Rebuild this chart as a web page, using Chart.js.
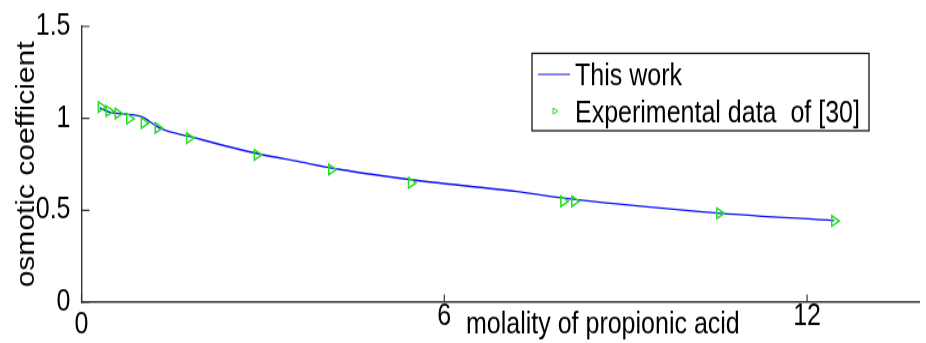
<!DOCTYPE html>
<html>
<head>
<meta charset="utf-8">
<script src="https://cdn.jsdelivr.net/npm/chart.js@4"></script>
<style>
  html, body { margin: 0; padding: 0; background: #fff; }
  body { height: 343px; width: 926px; }
  /* the reference is a vertically stretched figure, so draw flat then stretch */
  #wrap { width: 926px; height: 286px; transform: scaleY(1.1993); transform-origin: 0 0; }
</style>
</head>
<body>
<div id="wrap"><canvas id="myChart"></canvas></div>
<script>
// model curve ("This work")
const lineX = [0.30, 0.46, 0.84, 1.00, 1.23, 1.33, 1.78, 2.93, 3.59, 4.24, 5.56, 7.20, 8.02, 8.84, 10.57, 12.45]
const lineY = [1.057, 1.035, 1.020, 1.008, 0.960, 0.942, 0.902, 0.807, 0.765, 0.724, 0.662, 0.602, 0.565, 0.535, 0.484, 0.444]

// experimental points of [30]
const expX = [0.32, 0.45, 0.60, 0.79, 1.03, 1.26, 1.78, 2.90, 4.13, 5.45, 7.97, 8.15, 10.55, 12.45]
const expY = [1.062, 1.040, 1.026, 0.998, 0.975, 0.948, 0.893, 0.802, 0.722, 0.649, 0.549, 0.549, 0.484, 0.442]

const xTicks = [0, 6, 12]
const yTicks = [0, 0.5, 1, 1.5]

const xTitle = 'molality of propionic acid'
const yTitle = 'osmotic coefficient'
const lineLabel = 'This work'
const expLabel = 'Experimental data  of [30]'

const family = '"Liberation Sans", Arial, sans-serif'
const axisColor = '#333'
const lineColor = '#0c0cf2'
const markColor = '#22dd22'

const extras = {
    id: 'extras',
    afterDraw(chart) {
        const ctx = chart.ctx
        const x = chart.scales.x
        const y = chart.scales.y
        ctx.save()
        // tick marks point inwards like matlab
        ctx.strokeStyle = axisColor
        ctx.lineWidth = 1.2
        ctx.beginPath()
        yTicks.forEach(v => {
            const py = y.getPixelForValue(v)
            ctx.moveTo(x.left, py)
            ctx.lineTo(x.left + 8, py)
        })
        xTicks.forEach(v => {
            const px = x.getPixelForValue(v)
            ctx.moveTo(px, y.bottom)
            ctx.lineTo(px, y.bottom - 6.5)
        })
        ctx.stroke()

        // x title sits on the tick label row
        ctx.font = '25px ' + family
        ctx.fillStyle = '#000'
        ctx.textAlign = 'left'
        ctx.textBaseline = 'alphabetic'
        ctx.fillText(xTitle, 466, 277.5)

        // legend box
        ctx.fillStyle = '#fff'
        ctx.fillRect(532, 44.5, 337, 64.5)
        ctx.strokeStyle = '#000'
        ctx.lineWidth = 1.2
        ctx.strokeRect(532, 44.5, 337, 64.5)
        ctx.strokeStyle = lineColor
        ctx.lineWidth = 1
        ctx.beginPath()
        ctx.moveTo(538, 62)
        ctx.lineTo(570, 62)
        ctx.stroke()
        ctx.strokeStyle = markColor
        ctx.beginPath()
        ctx.moveTo(553, 90.2)
        ctx.lineTo(558, 92.6)
        ctx.lineTo(553, 95)
        ctx.closePath()
        ctx.stroke()
        ctx.fillStyle = '#000'
        ctx.fillText(lineLabel, 575, 70.9)
        ctx.fillText(expLabel, 575, 101.5)
        ctx.restore()
    }
}

const data = {
    datasets: [{
        label: lineLabel,
        data: lineX.map((v, i) => ({x: v, y: lineY[i]})),
        borderColor: lineColor,
        borderWidth: 1.3,
        pointRadius: 0,
        cubicInterpolationMode: 'monotone',
        showLine: true,
        order: 2
    }, {
        label: expLabel,
        data: expX.map((v, i) => ({x: v, y: expY[i]})),
        borderColor: markColor,
        backgroundColor: 'rgba(0,0,0,0)',
        pointStyle: 'triangle',
        rotation: 90,
        pointRadius: 5,
        pointBorderWidth: 1.5,
        showLine: false,
        order: 1
    }]
}

let myChart = new Chart(document.getElementById('myChart'), {
    type: 'scatter',
    data: data,
    options: {
        responsive: true,
        maintainAspectRatio: false,
        animation: false,
        layout: { padding: { top: 22, right: 0, left: 0, bottom: 0 } },
        plugins: {
            legend: { display: false },
            tooltip: { enabled: false }
        },
        scales: {
            x: {
                type: 'linear',
                min: 0,
                max: 13.86,
                grid: { display: false },
                border: { display: true, color: axisColor, width: 1.4 },
                afterBuildTicks: s => { s.ticks = xTicks.map(v => ({value: v})) },
                afterFit: s => { s.height = 34 },
                ticks: {
                    color: '#000',
                    padding: -11,
                    maxRotation: 0,
                    autoSkip: false,
                    // the 0 label sits a little lower than the others in the original
                    font: c => ({ family: family, size: 25, lineHeight: (c.tick && c.tick.value === 0) ? 0.6 : 1.2 }),
                    callback: v => v === 0 ? ['', '0'] : String(v)
                }
            },
            y: {
                min: 0,
                max: 1.5,
                grid: { display: false },
                border: { display: true, color: axisColor, width: 1.4 },
                afterBuildTicks: s => { s.ticks = yTicks.map(v => ({value: v})) },
                afterFit: s => { s.width = 81.5 },
                ticks: {
                    color: '#000',
                    padding: 3,
                    autoSkip: false,
                    font: { family: family, size: 25 },
                    callback: v => String(v)
                },
                title: {
                    display: true,
                    text: yTitle,
                    color: '#000',
                    font: { family: family, size: 25 },
                    padding: { top: 12, bottom: 0 }
                }
            }
        }
    },
    plugins: [extras]
})
</script>
</body>
</html>
